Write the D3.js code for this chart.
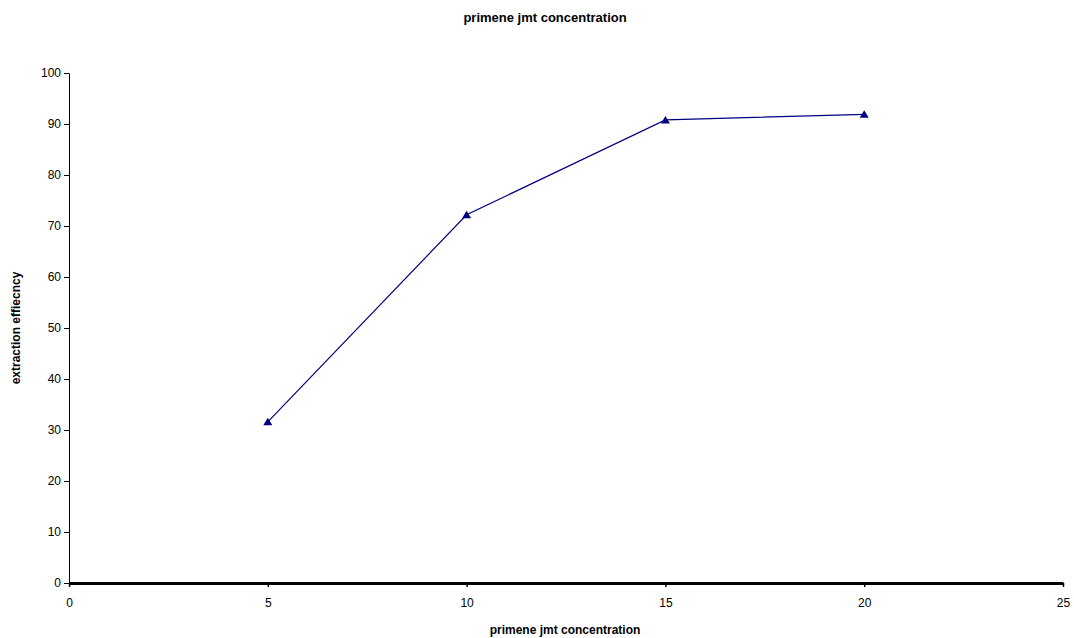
<!DOCTYPE html>
<html>
<head>
<meta charset="utf-8">
<script src="https://cdn.jsdelivr.net/npm/d3@7"></script>
<style>
  body { margin: 0; background: #fff; }
  svg { font-family: "Liberation Sans", Arial, sans-serif; }
</style>
</head>
<body>
<div id="chart"></div>
<script>
var concentration = [5, 10, 15, 20]
var efficiency = [31.6, 72.2, 90.8, 91.9]
var xTicks = [0, 5, 10, 15, 20, 25]
var yTicks = [0, 10, 20, 30, 40, 50, 60, 70, 80, 90, 100]

var width = 1074
var height = 638
var margin = {top: 73, right: 11, bottom: 55, left: 69}

var svg = d3.select('#chart')
    .append('svg')
    .attr('width', width)
    .attr('height', height)

var x = d3.scaleLinear().domain([0, 25]).range([margin.left, width - margin.right])
var y = d3.scaleLinear().domain([0, 100]).range([height - margin.bottom, margin.top])

// y axis
var yAxis = svg.append('g')
    .attr('transform', `translate(${margin.left}, 0)`)
    .call(d3.axisLeft(y).tickValues(yTicks).tickSize(5).tickSizeOuter(0))
yAxis.select('.domain').attr('stroke', '#000')
yAxis.selectAll('text').attr('font-size', 12).attr('fill', '#000').attr('font-family', '"Liberation Sans", Arial, sans-serif')

// x axis
var xAxis = svg.append('g')
    .attr('transform', `translate(0, ${y(0)})`)
    .call(d3.axisBottom(x).tickValues(xTicks).tickSize(4).tickSizeOuter(0))
xAxis.select('.domain').attr('stroke', '#000').attr('stroke-width', 3)
xAxis.selectAll('.tick line').attr('stroke-width', 1.5)
xAxis.selectAll('text').attr('font-size', 12).attr('fill', '#000').attr('dy', '1.45em').attr('font-family', '"Liberation Sans", Arial, sans-serif')

var pts = concentration.map((c, i) => ({x: c, y: efficiency[i]}))

svg.append('path')
    .datum(pts)
    .attr('fill', 'none')
    .attr('stroke', '#000080')
    .attr('stroke-width', 1.2)
    .attr('d', d3.line().x(d => x(d.x)).y(d => y(d.y)))

svg.selectAll('.marker')
    .data(pts)
    .enter().append('path')
    .attr('class', 'marker')
    .attr('transform', d => `translate(${x(d.x)}, ${y(d.y)})`)
    .attr('d', 'M0,-4L4.5,3.5L-4.5,3.5Z')
    .attr('fill', '#000080')

svg.append('text')
    .attr('x', 545)
    .attr('y', 22)
    .attr('text-anchor', 'middle')
    .attr('font-size', 13)
    .attr('font-weight', 'bold')
    .text('primene jmt concentration')

svg.append('text')
    .attr('x', 565)
    .attr('y', 634)
    .attr('text-anchor', 'middle')
    .attr('font-size', 12)
    .attr('font-weight', 'bold')
    .text('primene jmt concentration')

svg.append('text')
    .attr('transform', 'translate(20, 328) rotate(-90)')
    .attr('text-anchor', 'middle')
    .attr('font-size', 12)
    .attr('font-weight', 'bold')
    .text('extraction effiecncy')
</script>
</body>
</html>
